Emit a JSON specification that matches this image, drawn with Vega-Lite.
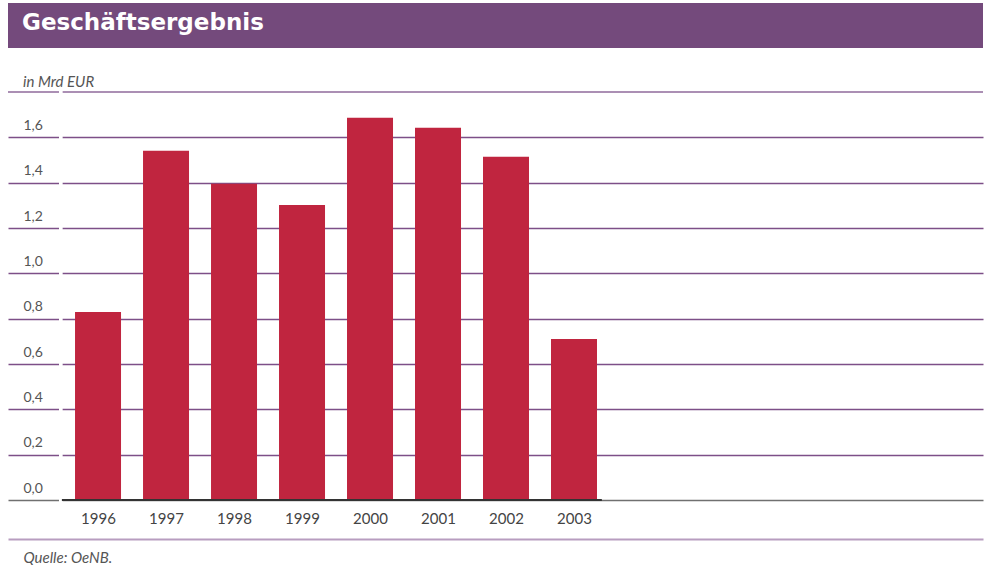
{
  "$schema": "https://vega.github.io/schema/vega-lite/v6.json",
  "padding": {"left": 7, "top": 3, "right": 5, "bottom": 0},
  "background": "white",
  "spacing": 27,
  "config": {
    "view": {"stroke": null},
    "font": "Lato"
  },
  "vconcat": [
    {
      "width": 975,
      "height": 45,
      "data": {"values": [{"t": "Geschäftsergebnis"}]},
      "layer": [
        {
          "mark": {"type": "rect", "color": "#744a7c"},
          "encoding": {}
        },
        {
          "mark": {
            "type": "text",
            "align": "left",
            "baseline": "alphabetic",
            "color": "white",
            "font": "DejaVu Sans",
            "fontSize": 23,
            "fontWeight": "bold"
          },
          "encoding": {
            "text": {"field": "t"},
            "x": {"datum": 0.0144, "type": "quantitative", "scale": {"domain": [0, 1], "nice": false}, "axis": null},
            "y": {"datum": 0.39, "type": "quantitative", "scale": {"domain": [0, 1], "nice": false}, "axis": null}
          }
        }
      ]
    },
    {
      "width": 975,
      "height": 408,
      "title": {
        "text": "in Mrd EUR",
        "anchor": "start",
        "frame": "group",
        "dx": 15,
        "offset": -14,
        "baseline": "alphabetic",
        "font": "Lato",
        "fontStyle": "italic",
        "fontWeight": "normal",
        "fontSize": 15,
        "color": "#555555"
      },
      "data": {
        "values": [
          {"year": 1996, "value": 0.829},
          {"year": 1997, "value": 1.541},
          {"year": 1998, "value": 1.395},
          {"year": 1999, "value": 1.302},
          {"year": 2000, "value": 1.686},
          {"year": 2001, "value": 1.642},
          {"year": 2002, "value": 1.514},
          {"year": 2003, "value": 0.71}
        ]
      },
      "layer": [
        {
          "mark": {"type": "bar", "width": 46, "color": "#c0253f"},
          "encoding": {
            "x": {
              "field": "year",
              "type": "quantitative",
              "scale": {"domain": [1994.676, 2009.015], "nice": false, "zero": false, "padding": 0},
              "axis": {
                "values": [1996, 1997, 1998, 1999, 2000, 2001, 2002, 2003],
                "format": "d",
                "offset": 39,
                "ticks": false,
                "grid": false,
                "domainColor": "#b89dc0",
                "domainWidth": 2,
                "labelPadding": -21,
                "labelBaseline": "middle",
                "labelFontSize": 15,
                "labelFont": "Lato",
                "labelColor": "#444444",
                "title": "Quelle: OeNB.",
                "titleAnchor": "start",
                "titleAlign": "left",
                "titleX": 15,
                "titleY": 23,
                "titleBaseline": "alphabetic",
                "titleFont": "Lato",
                "titleFontStyle": "italic",
                "titleFontWeight": "normal",
                "titleFontSize": 15,
                "titleColor": "#555555"
              }
            },
            "y": {
              "field": "value",
              "type": "quantitative",
              "scale": {"domain": [0, 1.8], "nice": false, "padding": 0},
              "axis": {
                "values": [0, 0.2, 0.4, 0.6, 0.8, 1.0, 1.2, 1.4, 1.6],
                "labelExpr": "replace(format(datum.value, '.1f'), '.', ',')",
                "domain": false,
                "ticks": false,
                "grid": true,
                "labelAlign": "left",
                "labelBaseline": "alphabetic",
                "labelPadding": -15,
                "labelOffset": -8,
                "labelFontSize": 14,
                "labelFont": "Lato",
                "labelColor": "#555555",
                "gridColor": {
                  "condition": {"test": "datum.value === 0", "value": "#707070"},
                  "value": "#7d4f88"
                },
                "gridWidth": 1.6,
                "title": null
              }
            }
          }
        },
        {
          "mark": {"type": "rule", "color": "#ab8fb4", "strokeWidth": 1.8},
          "encoding": {
            "y": {"datum": 1.8, "type": "quantitative"}
          }
        },
        {
          "mark": {"type": "rule", "color": "white", "strokeWidth": 3},
          "encoding": {
            "x": {"datum": 1995.45, "type": "quantitative"},
            "y": {"datum": -0.01, "type": "quantitative"},
            "y2": {"datum": 1.81}
          }
        },
        {
          "mark": {"type": "rule", "color": "#333333", "strokeWidth": 2.2},
          "encoding": {
            "x": {"datum": 1995.47, "type": "quantitative"},
            "x2": {"datum": 2003.4},
            "y": {"datum": 0, "type": "quantitative"}
          }
        }
      ]
    }
  ]
}
